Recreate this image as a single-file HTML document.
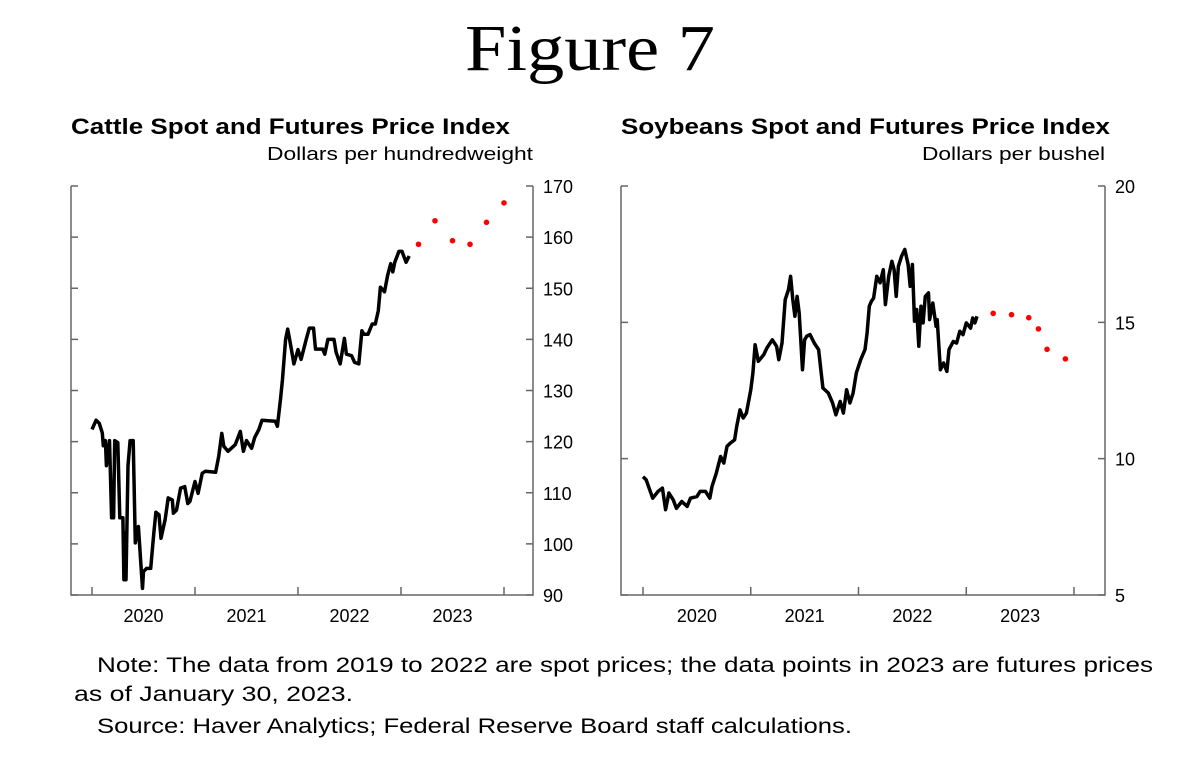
<!DOCTYPE html>
<html><head><meta charset="utf-8"><style>
html,body{margin:0;padding:0;background:#fff;}
svg{display:block;font-family:"Liberation Sans",sans-serif;}
</style></head><body>
<svg id="fig" width="1181" height="763" viewBox="0 0 1181 763">
<text x="590" y="70" text-anchor="middle" font-family="Liberation Serif, serif" font-size="66" textLength="250" lengthAdjust="spacingAndGlyphs">Figure 7</text>
<text x="71" y="134" font-weight="bold" font-size="22" textLength="439" lengthAdjust="spacingAndGlyphs">Cattle Spot and Futures Price Index</text>
<text x="533" y="160" text-anchor="end" font-size="18" textLength="266" lengthAdjust="spacingAndGlyphs">Dollars per hundredweight</text>
<text x="621" y="134" font-weight="bold" font-size="22" textLength="489" lengthAdjust="spacingAndGlyphs">Soybeans Spot and Futures Price Index</text>
<text x="1105" y="160" text-anchor="end" font-size="18" textLength="183" lengthAdjust="spacingAndGlyphs">Dollars per bushel</text>
<g id="c1"></g>
<g id="c2"></g>
<text x="97" y="672" font-size="21" textLength="1056" lengthAdjust="spacingAndGlyphs">Note:  The data from 2019 to 2022 are spot prices; the data points in 2023 are futures prices</text>
<text x="74" y="701" font-size="21" textLength="279" lengthAdjust="spacingAndGlyphs">as of January 30, 2023.</text>
<text x="97" y="733" font-size="21" textLength="755" lengthAdjust="spacingAndGlyphs">Source:  Haver Analytics; Federal Reserve Board staff calculations.</text>
</svg>
<script>
const cattleDates=[2020.0,2020.04,2020.07,2020.1,2020.11,2020.13,2020.14,2020.17,2020.19,2020.21,2020.22,2020.25,2020.27,2020.3,2020.31,2020.32,2020.33,2020.35,2020.37,2020.4,2020.42,2020.45,2020.49,2020.5,2020.53,2020.57,2020.6,2020.62,2020.65,2020.67,2020.71,2020.74,2020.78,2020.79,2020.82,2020.86,2020.9,2020.93,2020.95,2021.0,2021.03,2021.07,2021.1,2021.2,2021.23,2021.26,2021.28,2021.32,2021.39,2021.44,2021.47,2021.5,2021.55,2021.58,2021.62,2021.65,2021.78,2021.8,2021.83,2021.85,2021.88,2021.9,2021.93,2021.96,2022.0,2022.03,2022.08,2022.11,2022.15,2022.17,2022.24,2022.26,2022.29,2022.35,2022.37,2022.41,2022.45,2022.47,2022.52,2022.55,2022.59,2022.62,2022.64,2022.68,2022.72,2022.75,2022.78,2022.8,2022.84,2022.87,2022.9,2022.92,2022.94,2022.98,2023.01,2023.05,2023.08];
const cattleSpot=[122.4,124.2,123.6,121.7,119.2,120.2,115.3,120.2,105.1,105.1,120.2,119.8,105.1,105.1,93.0,102.1,93.0,115.3,120.2,120.2,100.2,103.4,91.3,94.6,95.2,95.2,102.1,106.2,105.7,101.1,104.7,109.0,108.6,106.0,106.6,110.9,111.2,107.9,108.3,112.2,109.9,113.8,114.2,114.0,117.1,121.6,119.1,118.1,119.4,122.0,118.1,120.2,118.7,120.8,122.4,124.2,124.0,123.0,128.3,132.2,140.0,142.0,138.7,135.2,138.0,136.1,140.0,142.2,142.2,138.1,138.1,137.1,140.0,140.0,137.5,135.2,140.2,137.1,136.8,135.5,135.2,141.7,141.0,141.0,143.0,143.0,145.6,150.2,149.3,152.5,154.8,153.2,155.1,157.2,157.2,155.1,156.3];
const cattleFutDates=[2023.17,2023.33,2023.5,2023.67,2023.83,2024.0];
const cattleFutures=[158.6,163.2,159.3,158.6,162.9,166.7];
const cattleTicks=[90,100,110,120,130,140,150,160,170];

const soyDates=[2020.0,2020.03,2020.09,2020.14,2020.18,2020.21,2020.24,2020.28,2020.31,2020.36,2020.41,2020.44,2020.5,2020.53,2020.58,2020.62,2020.64,2020.68,2020.72,2020.75,2020.78,2020.81,2020.85,2020.87,2020.9,2020.93,2020.96,2021.0,2021.02,2021.04,2021.07,2021.12,2021.15,2021.2,2021.24,2021.26,2021.29,2021.32,2021.35,2021.37,2021.39,2021.41,2021.43,2021.45,2021.48,2021.5,2021.52,2021.55,2021.59,2021.63,2021.67,2021.72,2021.76,2021.79,2021.83,2021.86,2021.89,2021.92,2021.95,2021.98,2022.02,2022.06,2022.08,2022.1,2022.12,2022.14,2022.17,2022.2,2022.23,2022.25,2022.28,2022.31,2022.33,2022.35,2022.37,2022.4,2022.43,2022.46,2022.48,2022.5,2022.52,2022.54,2022.56,2022.58,2022.6,2022.62,2022.65,2022.66,2022.69,2022.72,2022.73,2022.76,2022.79,2022.82,2022.84,2022.88,2022.91,2022.94,2022.97,2023.0,2023.04,2023.06,2023.08,2023.1];
const soySpot=[9.34,9.22,8.55,8.80,8.92,8.13,8.74,8.49,8.18,8.43,8.25,8.55,8.61,8.80,8.80,8.55,8.98,9.47,10.08,9.84,10.45,10.57,10.69,11.18,11.79,11.49,11.67,12.53,13.14,14.18,13.57,13.81,14.06,14.36,14.12,13.63,14.24,15.83,16.20,16.69,15.83,15.22,15.95,15.34,13.26,14.36,14.49,14.55,14.24,14.00,12.59,12.41,12.04,11.61,12.10,11.67,12.53,12.04,12.41,13.14,13.63,14.00,14.61,15.59,15.77,15.89,16.69,16.45,16.93,15.65,16.69,17.24,16.93,15.95,17.06,17.43,17.67,17.12,16.32,17.12,15.04,15.47,14.12,15.59,14.98,15.95,16.08,15.10,15.71,14.85,15.10,13.26,13.51,13.20,14.00,14.30,14.24,14.67,14.55,14.98,14.79,15.16,14.98,15.22];
const soyFutDates=[2023.25,2023.42,2023.58,2023.67,2023.75,2023.92];
const soyFutures=[15.33,15.28,15.17,14.76,14.01,13.66];
const soyTicks=[5,10,15,20];
const yearLabels=['2020','2021','2022','2023'];

const NS='http://www.w3.org/2000/svg';
function mk(tag,attrs,parent){const e=document.createElementNS(NS,tag);for(const k in attrs)e.setAttribute(k,attrs[k]);parent.appendChild(e);return e;}

function drawChart(g,o,dates,vals,fdates,fvals,ticks){
  const xS=t=>o.x0+(t-2020)*(o.x5-o.x0)/4;
  const yS=v=>o.bot-(v-o.vmin)*(o.bot-o.top)/(o.vmax-o.vmin);
  const frame=mk('path',{d:`M${o.left},${o.top}V${o.bot}H${o.right}V${o.top}`,fill:'none',stroke:'#666','stroke-width':1.5},g);
  
  
  ticks.forEach(v=>{
    const y=yS(v);
    const t=mk('path',{d:`M${o.left},${y}h7M${o.right},${y}h-7`,stroke:'#666','stroke-width':1.5},g);
    
    
    const l=mk('text',{x:o.right+10,y:y+7,'font-size':18},g);l.textContent=v;
    
    
  });
  for(let i=0;i<=4;i++){
    const x=xS(2020+i);
    const t=mk('path',{d:`M${x},${o.bot}v-8`,stroke:'#666','stroke-width':1.5},g);
    
    
  }
  yearLabels.forEach((s,i)=>{
    const l=mk('text',{x:xS(2020.5+i),y:o.bot+27,'font-size':18,'text-anchor':'middle'},g);l.textContent=s;
    
    
  });
  const d=dates.map((t,i)=>(i?'L':'M')+xS(t).toFixed(1)+','+yS(vals[i]).toFixed(1)).join('');
  const p=mk('path',{d,fill:'none',stroke:'#000','stroke-width':3.5,'stroke-linejoin':'round'},g);
  
  
  fdates.forEach((t,i)=>{
    const c=mk('circle',{cx:xS(t),cy:yS(fvals[i]),r:2.8,fill:'#f00'},g);
    
    
  });
}
drawChart(document.getElementById('c1'),{left:71,right:533,top:186,bot:595,x0:92,x5:504,vmin:90,vmax:170},cattleDates,cattleSpot,cattleFutDates,cattleFutures,cattleTicks);
drawChart(document.getElementById('c2'),{left:621,right:1105,top:186,bot:595,x0:643,x5:1074,vmin:5,vmax:20},soyDates,soySpot,soyFutDates,soyFutures,soyTicks);
</script>
</body></html>
